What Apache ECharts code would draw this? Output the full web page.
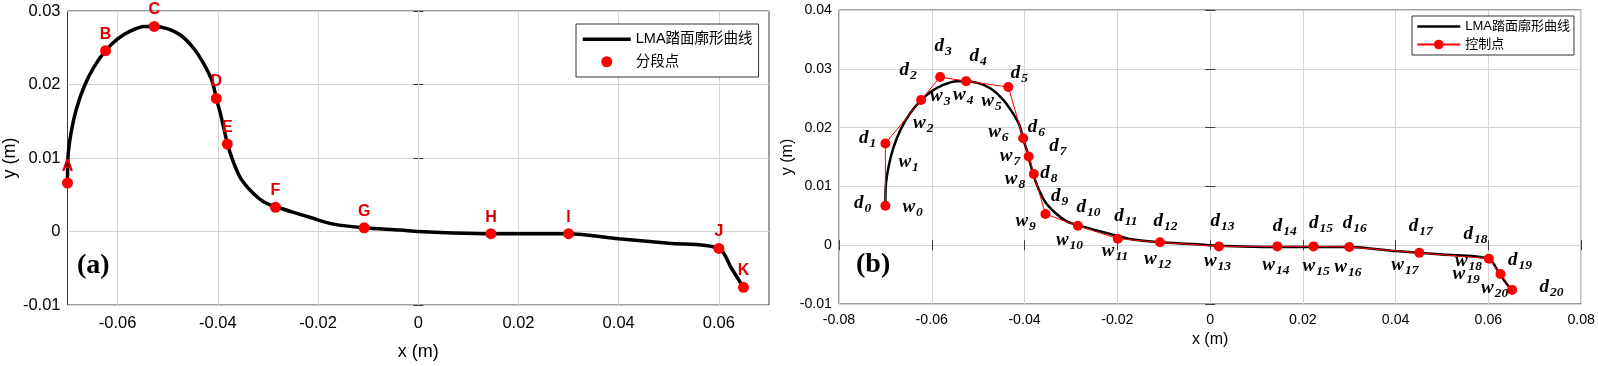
<!DOCTYPE html>
<html>
<head>
<meta charset="utf-8">
<script src="https://cdn.jsdelivr.net/npm/echarts@6/dist/echarts.min.js"></script>
<style>
  html, body { margin: 0; padding: 0; background: #fff; }
  #chart { width: 1598px; height: 366px; }
</style>
</head>
<body>
<div id="chart"></div>
<script>
// LMA 踏面廓形曲线 (shared by both panels)
var profileX = [-0.0700, -0.0699, -0.0693, -0.0683, -0.0667, -0.0647, -0.0624, -0.0600, -0.0574, -0.0547, -0.0527, -0.0501, -0.0474, -0.0448, -0.0428, -0.0411, -0.0403, -0.0395, -0.0381, -0.0371, -0.0355, -0.0331, -0.0308, -0.0285, -0.0249, -0.0215, -0.0169, -0.0108, -0.0036, 0.0000, 0.0070, 0.0145, 0.0220, 0.0300, 0.0400, 0.0500, 0.0600, 0.0625, 0.0649];
var profileY = [0.0066, 0.0102, 0.0134, 0.0165, 0.0197, 0.0224, 0.0246, 0.0262, 0.0273, 0.0279, 0.0279, 0.0276, 0.0267, 0.0249, 0.0228, 0.0204, 0.0181, 0.0161, 0.0120, 0.0098, 0.0073, 0.0053, 0.0040, 0.0034, 0.0026, 0.0019, 0.0010, 0.0005, 0.0002, 0.0000, -0.0002, -0.0003, -0.0003, -0.0003, -0.0010, -0.0016, -0.0023, -0.0050, -0.0076];

// 分段点 (a)
var segNames = ['A', 'B', 'C', 'D', 'E', 'F', 'G', 'H', 'I', 'J', 'K'];
var segX = [-0.0700, -0.0624, -0.0527, -0.0403, -0.0381, -0.0285, -0.0108, 0.0145, 0.0300, 0.0600, 0.0649];
var segY = [0.0066, 0.0246, 0.0279, 0.0181, 0.0119, 0.0033, 0.0005, -0.0003, -0.0003, -0.0023, -0.0076];

// 控制点 (b)
var ctrlX = [-0.0700, -0.0700, -0.0623, -0.0582, -0.0526, -0.0435, -0.0403, -0.0391, -0.0380, -0.0355, -0.0285, -0.0199, -0.0108, 0.0019, 0.0145, 0.0223, 0.0300, 0.0451, 0.0601, 0.0626, 0.0651];
var ctrlY = [0.0067, 0.0173, 0.0247, 0.0286, 0.0279, 0.0269, 0.0182, 0.0151, 0.0121, 0.0053, 0.0033, 0.0011, 0.0005, -0.0002, -0.0002, -0.0002, -0.0003, -0.0013, -0.0023, -0.0049, -0.0076];

// tick values of panel (a) x axis
var xTicksA = [-0.06, -0.04, -0.02, 0, 0.02, 0.04, 0.06];

// label offsets (px) of the d_i / w_i annotations from each control point
var dOff = [[-27,-6],[-22,-8],[-17,-33],[-1,-34],[8,-28],[7,-17],[9,-14],[25,-13],[11,-4],[10,-21],[3,-22],[1,-26],[-2,-24],[-4,-28],[0,-23],[0,-26],[-2,-27],[-6,-30],[-21,-28],[12,-17],[32,-6]];
var wOff = [[23,0],[19,18],[-2,22],[-4,18],[-7,13],[-21,13],[-29,-7],[-23,-1],[-23,4],[-24,6],[-16,13],[-10,11],[-10,16],[-9,14],[-9,18],[-5,19],[-9,19],[-22,11],[-28,1],[-42,-1],[-25,-3]];

var CURVE = 'LMA踏面廓形曲线';
var SANS = 'Liberation Sans, Arial, Noto Sans CJK SC';
var SERIF = 'Liberation Serif, Times New Roman, serif';
var AXC = '#3a3a3a';
var GRIDC = '#d4d4d4';

function zip(xs, ys) {
    return xs.map(function (x, i) { return [x, ys[i]]; });
}

var profile = zip(profileX, profileY);

var richSub = {
    m: { fontFamily: SERIF, fontWeight: 'bold', fontStyle: 'italic', fontSize: 19, lineHeight: 19, verticalAlign: 'top', color: '#000' },
    s: { fontFamily: SERIF, fontWeight: 'bold', fontStyle: 'italic', fontSize: 13.5, lineHeight: 13, padding: [11, 0, 0, 1], color: '#000' }
};

var dData = ctrlX.map(function (x, i) {
    return { value: [x, ctrlY[i]], label: { offset: [dOff[i][0] - 4.5, dOff[i][1] + 3] } };
});
var wData = ctrlX.map(function (x, i) {
    return { value: [x, ctrlY[i]], label: { offset: [wOff[i][0] - 6, wOff[i][1] + 1] } };
});

function valueAxis(grid, pos, min, max, interval, opt) {
    var a = {
        type: 'value', gridIndex: grid, position: pos, min: min, max: max, interval: interval,
        axisLine: { show: false },
        axisTick: { show: true, inside: true, length: 5, lineStyle: { color: AXC } },
        axisLabel: { show: false },
        splitLine: { show: false }
    };
    for (var k in opt) a[k] = opt[k];
    return a;
}

var fsA = 16.5, fsB = 14.2;

var option = {
    animation: false,
    backgroundColor: '#fff',
    title: [
        { text: '(a)', left: 77, top: 252, padding: 0, textStyle: { fontFamily: SERIF, fontWeight: 'bold', fontSize: 28, color: '#000' } },
        { text: '(b)', left: 856, top: 251, padding: 0, textStyle: { fontFamily: SERIF, fontWeight: 'bold', fontSize: 28, color: '#000' } }
    ],
    grid: [
        { left: 67, top: 11, width: 702, height: 295, show: true, borderColor: AXC, borderWidth: 1 },
        { left: 839, top: 10, width: 745, height: 294, show: true, borderColor: AXC, borderWidth: 1 }
    ],
    legend: [
        {
            orient: 'vertical', left: 576, top: 24, padding: [8, 6, 8, 5], itemGap: 8,
            itemWidth: 48, itemHeight: 11, borderColor: '#333', borderWidth: 1, backgroundColor: '#fff',
            textStyle: { fontFamily: SANS, fontSize: 14.5, color: '#000' },
            data: [
                { name: CURVE, lineStyle: { width: 3.5, color: '#000' }, itemStyle: { opacity: 0 } },
                { name: '分段点' }
            ]
        },
        {
            orient: 'vertical', left: 1412, top: 16, padding: [4, 4, 4, 4], itemGap: 5,
            itemWidth: 43, itemHeight: 12, borderColor: '#333', borderWidth: 1, backgroundColor: '#fff',
            textStyle: { fontFamily: SANS, fontSize: 13, color: '#000' },
            data: [
                { name: CURVE, lineStyle: { width: 2.5, color: '#000' }, itemStyle: { opacity: 0 } },
                { name: '控制点' }
            ]
        }
    ],
    xAxis: [
        valueAxis(0, 'bottom', -0.07, 0.07, 0.02, {
            axisTick: { show: true, inside: true, length: 5, customValues: xTicksA, lineStyle: { color: AXC } },
            axisLabel: { show: true, customValues: xTicksA, margin: 10, color: '#000', fontFamily: SANS, fontSize: fsA },
            name: 'x (m)', nameLocation: 'middle', nameGap: 38,
            nameTextStyle: { fontFamily: SANS, fontSize: 18, color: '#000' }
        }),
        valueAxis(0, 'top', -0.07, 0.07, 0.02, {
            axisTick: { show: true, inside: true, length: 5, customValues: xTicksA, lineStyle: { color: AXC } }
        }),
        valueAxis(1, 'bottom', -0.08, 0.08, 0.02, {
            axisLabel: { show: true, margin: 9, color: '#000', fontFamily: SANS, fontSize: fsB },
            splitLine: { show: true, lineStyle: { color: GRIDC, width: 1 } },
            name: 'x (m)', nameLocation: 'middle', nameGap: 28,
            nameTextStyle: { fontFamily: SANS, fontSize: 16, color: '#000' }
        }),
        valueAxis(1, 'top', -0.08, 0.08, 0.02, {})
    ],
    yAxis: [
        valueAxis(0, 'left', -0.01, 0.03, 0.01, {
            axisLabel: { show: true, margin: 7, color: '#000', fontFamily: SANS, fontSize: fsA },
            splitLine: { show: true, lineStyle: { color: GRIDC, width: 1 } },
            name: 'y (m)', nameLocation: 'middle', nameGap: 47,
            nameTextStyle: { fontFamily: SANS, fontSize: 18, color: '#000' }
        }),
        valueAxis(0, 'right', -0.01, 0.03, 0.01, {}),
        valueAxis(1, 'left', -0.01, 0.04, 0.01, {
            axisLabel: { show: true, margin: 7, color: '#000', fontFamily: SANS, fontSize: fsB },
            splitLine: { show: true, lineStyle: { color: GRIDC, width: 1 } },
            name: 'y (m)', nameLocation: 'middle', nameGap: 41,
            nameTextStyle: { fontFamily: SANS, fontSize: 16, color: '#000' }
        }),
        valueAxis(1, 'right', -0.01, 0.04, 0.01, {})
    ],
    series: [
        {
            name: CURVE, type: 'line', xAxisIndex: 0, yAxisIndex: 0,
            data: profile, showSymbol: false, symbol: 'none', smooth: 0.3,
            lineStyle: { color: '#000', width: 3.5 }, itemStyle: { color: '#000' }, z: 2,
            // vertical grid lines of panel (a) at the tick values
            markLine: {
                silent: true, symbol: 'none', animation: false, z: 1,
                label: { show: false },
                lineStyle: { color: GRIDC, width: 1, type: 'solid' },
                emphasis: { disabled: true },
                data: xTicksA.map(function (v) { return { xAxis: v }; })
            }
        },
        {
            name: '分段点', type: 'scatter', xAxisIndex: 0, yAxisIndex: 0,
            data: zip(segX, segY), symbol: 'circle', symbolSize: 11,
            itemStyle: { color: '#ff0000', opacity: 1 }, z: 3,
            label: {
                show: true, position: 'top', distance: 3,
                formatter: function (p) { return segNames[p.dataIndex]; },
                fontFamily: SANS, fontWeight: 'bold', fontSize: 16, color: '#e00000'
            }
        },
        {
            name: CURVE, type: 'line', xAxisIndex: 2, yAxisIndex: 2,
            data: profile, showSymbol: false, symbol: 'none', smooth: 0.3,
            lineStyle: { color: '#000', width: 2.5 }, itemStyle: { color: '#000' }, z: 2
        },
        {
            name: '控制点', type: 'line', xAxisIndex: 2, yAxisIndex: 2,
            data: dData, symbol: 'circle', symbolSize: 10, showSymbol: true,
            lineStyle: { color: '#ff0000', width: 1 }, itemStyle: { color: '#ff0000' }, z: 3,
            label: {
                show: true, position: 'inside', align: 'left', verticalAlign: 'middle',
                formatter: function (p) { return '{m|d}{s|' + p.dataIndex + '}'; },
                rich: richSub
            }
        },
        {
            name: 'w', type: 'scatter', xAxisIndex: 2, yAxisIndex: 2,
            data: wData, symbolSize: 1, itemStyle: { color: 'rgba(0,0,0,0)' }, z: 4, silent: true,
            label: {
                show: true, opacity: 1, position: 'inside', align: 'left', verticalAlign: 'middle',
                formatter: function (p) { return '{m|w}{s|' + p.dataIndex + '}'; },
                rich: richSub
            }
        }
    ]
};

var chart = echarts.init(document.getElementById('chart'));
chart.setOption(option);
</script>
</body>
</html>
